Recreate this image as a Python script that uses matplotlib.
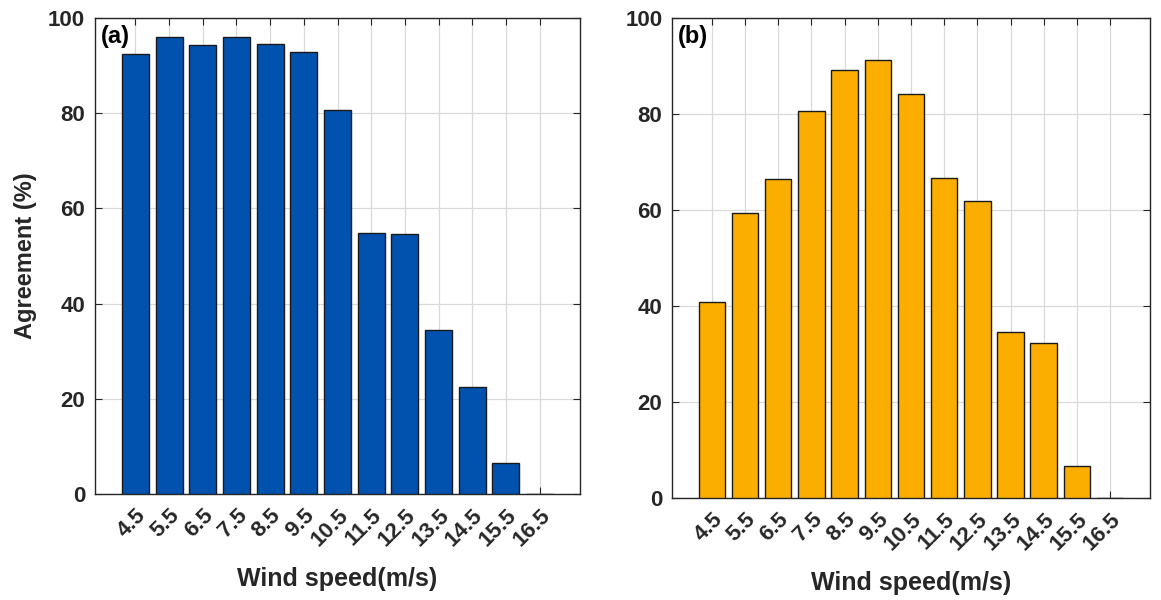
"""Agreement (%) per wind-speed bin, two side-by-side bar panels (a) and (b)."""
import matplotlib as mpl
import matplotlib.pyplot as plt
import numpy as np

# --- Data -----------------------------------------------------------------
wind_bins = ["4.5", "5.5", "6.5", "7.5", "8.5", "9.5", "10.5",
             "11.5", "12.5", "13.5", "14.5", "15.5", "16.5"]
agreement_a = [92.5, 96.1, 94.3, 96.0, 94.5, 92.8, 80.7,
               54.9, 54.7, 34.5, 22.5, 6.6, 0.0]
agreement_b = [40.8, 59.3, 66.5, 80.7, 89.1, 91.2, 84.1,
               66.7, 61.9, 34.5, 32.2, 6.6, 0.0]

BLUE = "#0052AE"
ORANGE = "#FBAD00"
INK = "#262626"

mpl.rcParams.update({
    "font.family": ["Liberation Sans", "DejaVu Sans"],
    "font.weight": "bold",
    "axes.labelweight": "bold",
    "axes.edgecolor": INK,
    "axes.linewidth": 1.0,
    "xtick.color": INK,
    "ytick.color": INK,
    "xtick.direction": "in",
    "ytick.direction": "in",
    "xtick.top": True,
    "ytick.right": True,
    "xtick.major.size": 5,
    "ytick.major.size": 5,
})


def draw_panel(ax, values, color, tag, ylabel=None, xpad=14):
    x = np.arange(len(wind_bins)) + 4.5
    ax.bar(x, values, width=0.8, color=color, edgecolor="#1a1a1a",
           linewidth=1.0, zorder=3)
    ax.set_xlim(x[0] - 1.2, x[-1] + 1.2)
    ax.set_ylim(0, 100)
    ax.set_xticks(x)
    ax.set_xticklabels(wind_bins, rotation=45, ha="right",
                       rotation_mode="anchor", fontsize=16)
    ax.set_yticks([0, 20, 40, 60, 80, 100])
    ax.tick_params(axis="y", labelsize=16, pad=7)
    ax.tick_params(axis="x", pad=8)
    ax.grid(True, color="#d9d9d9", linewidth=0.9, zorder=0)
    ax.set_axisbelow(True)
    ax.set_xlabel("Wind speed(m/s)", fontsize=18, color=INK, labelpad=xpad)
    if ylabel:
        ax.set_ylabel(ylabel, fontsize=17, color=INK, labelpad=8)
    ax.text(0.012, 0.985, tag, transform=ax.transAxes, ha="left", va="top",
            fontsize=17, fontweight="bold", color="black", zorder=5)


fig = plt.figure(figsize=(11.61, 6.0), dpi=100)
ax_a = fig.add_axes([0.0818, 0.1767, 0.4178, 0.7933])
ax_b = fig.add_axes([0.5788, 0.1700, 0.4117, 0.8000])

draw_panel(ax_a, agreement_a, BLUE, "(a)", ylabel="Agreement (%)", xpad=12)
draw_panel(ax_b, agreement_b, ORANGE, "(b)", xpad=12)

fig.savefig("out.png", dpi=100)
